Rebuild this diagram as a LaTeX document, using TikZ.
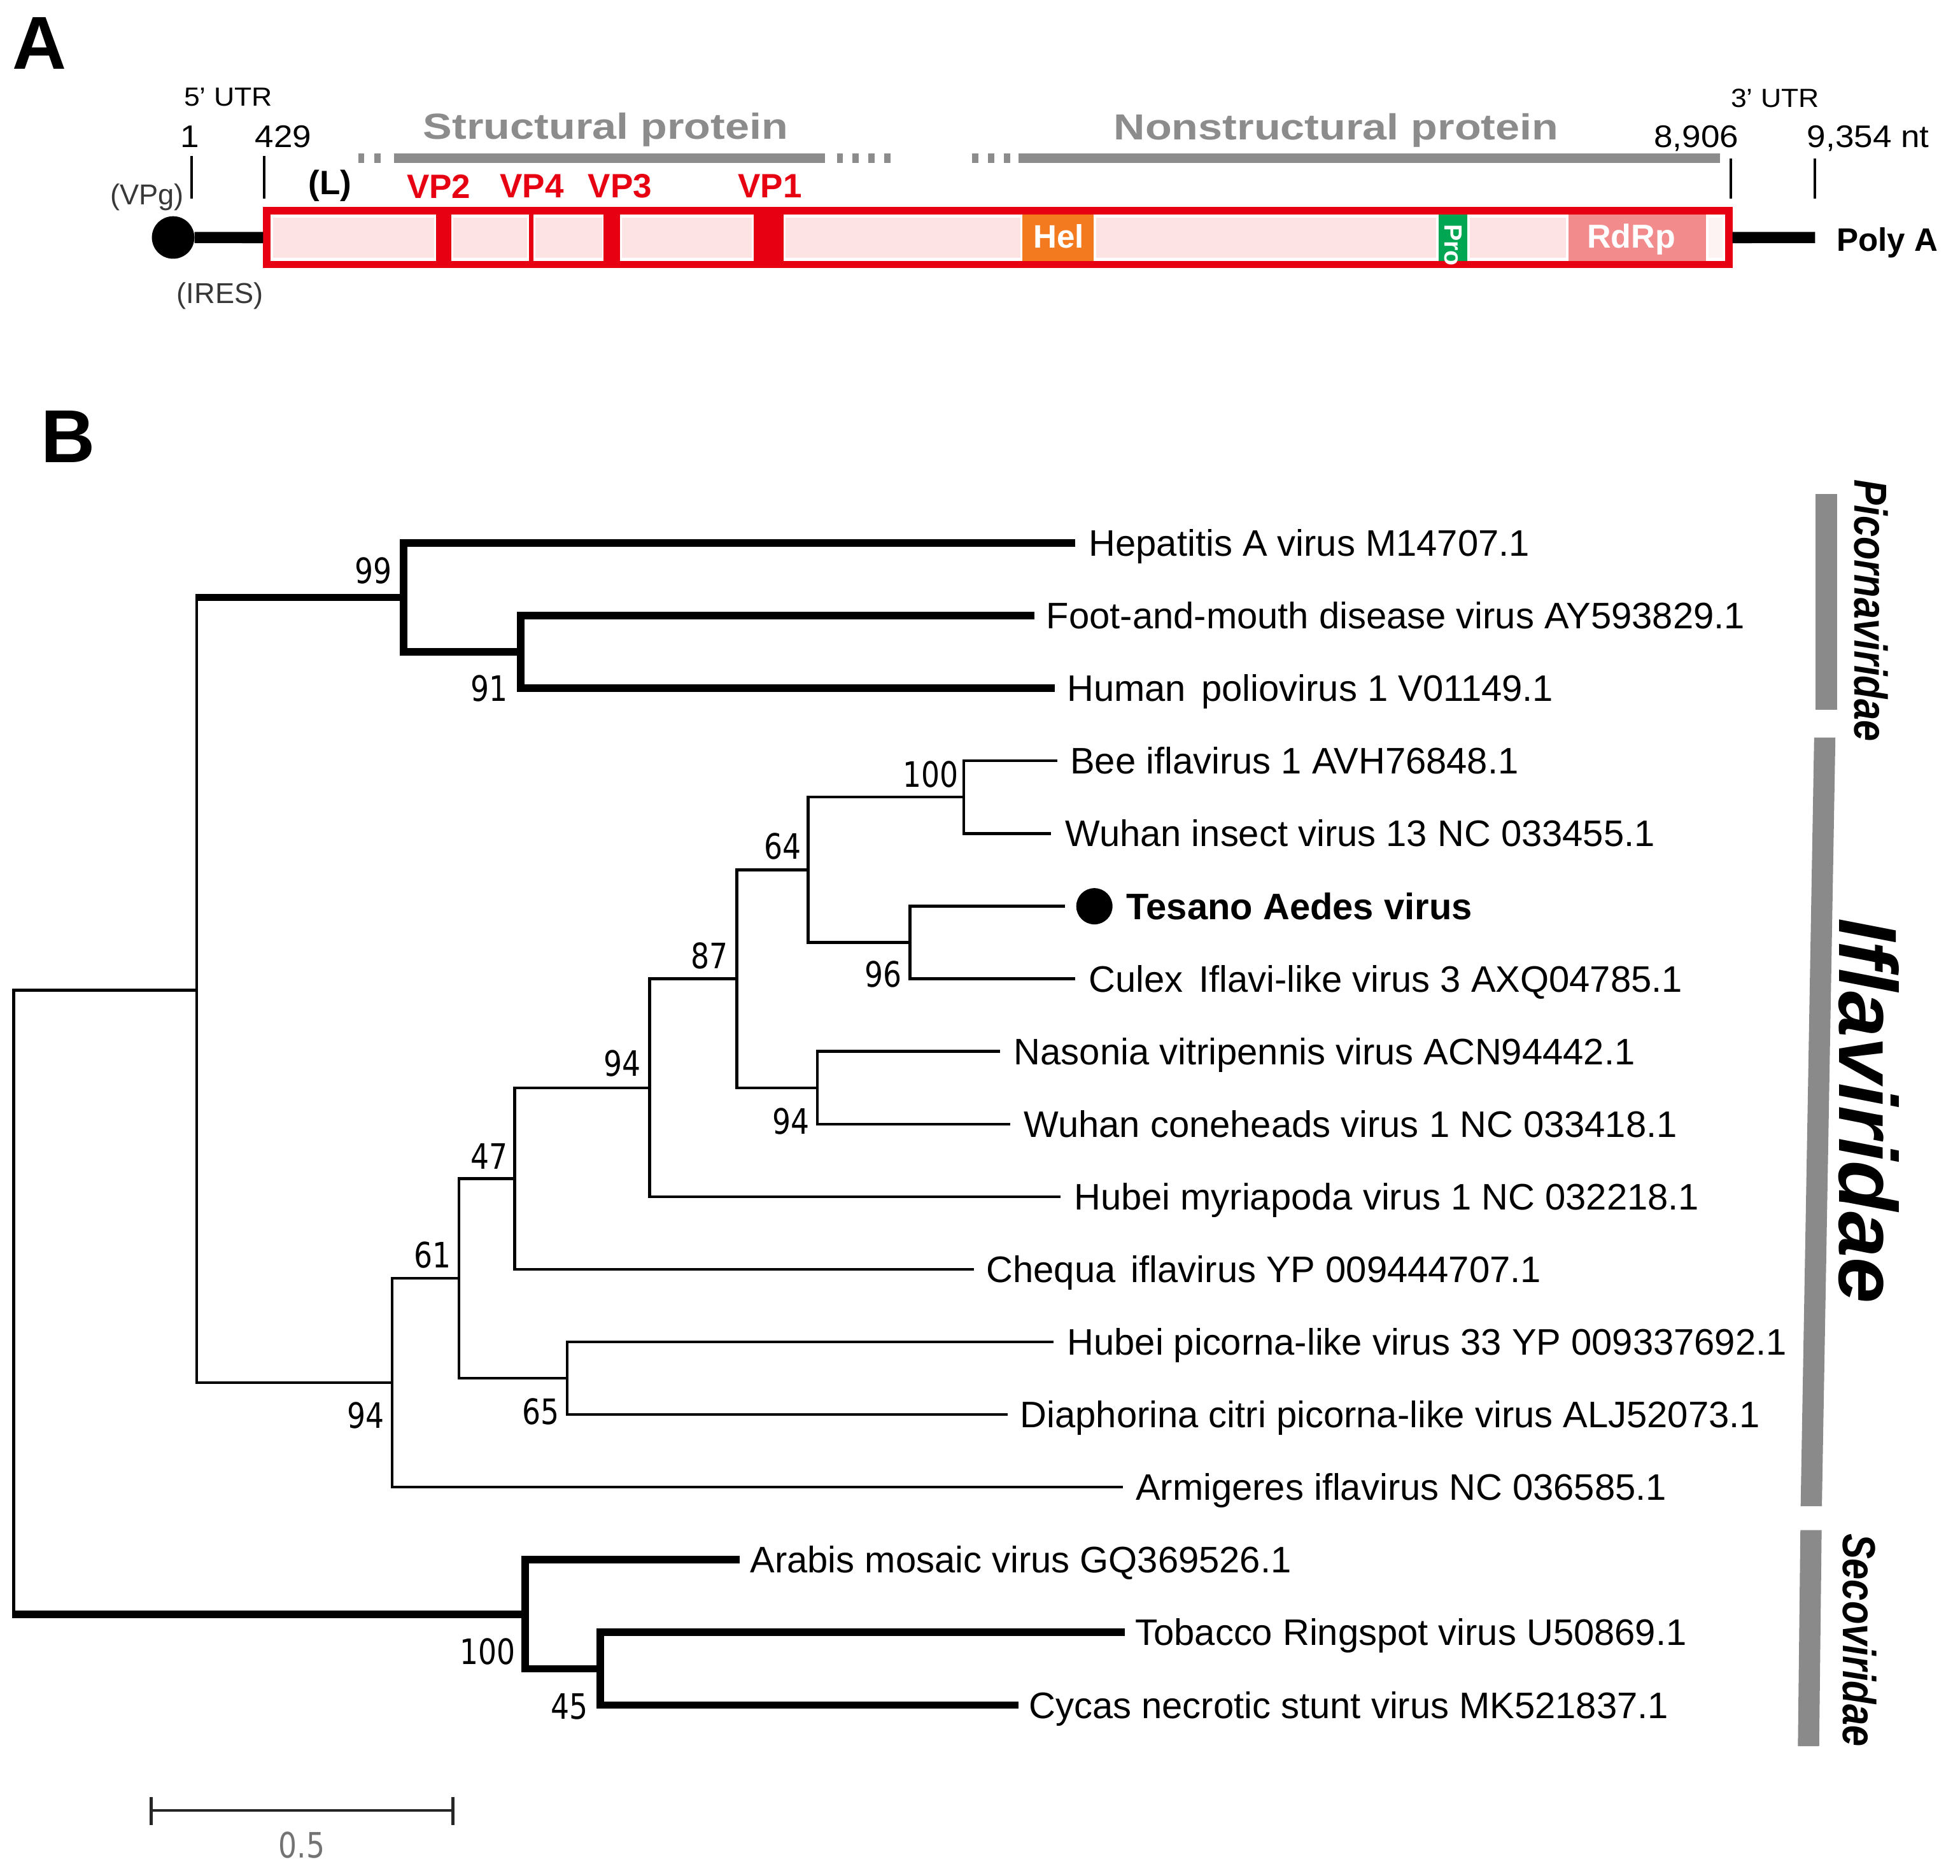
\documentclass[tikz,border=0pt]{standalone}
\usepackage{fontspec}
\setmainfont{Liberation Sans}
\newfontfamily\bootfam[FakeStretch=0.83]{DejaVu Sans}
\newfontfamily\widefam[FakeStretch=1.2]{Liberation Sans}
\newfontfamily\numfam[FakeStretch=1.08]{Liberation Sans}
\newfontfamily\famfam[FakeStretch=0.82]{Liberation Sans}
\definecolor{genred}{HTML}{E60012}
\definecolor{segpink}{HTML}{FDE3E3}
\definecolor{helorange}{HTML}{F47A1F}
\definecolor{progreen}{HTML}{00A651}
\definecolor{rdrpsalmon}{HTML}{F28B8B}
\definecolor{protgray}{HTML}{8C8C8C}
\definecolor{bargray}{HTML}{8A8A8A}
\newcommand\wsp{\hspace{0.42em}}
\begin{document}
\begin{tikzpicture}[x=1pt,y=-1pt,
  tip/.style={anchor=base west, inner sep=0pt, font=\fontsize{29.5}{32}\selectfont},
  boot/.style={inner sep=0pt, font=\bootfam\fontsize{28}{30}\selectfont},
  thinbr/.style={line width=2.2pt, line join=miter},
  thickbr/.style={line width=6pt, line join=miter},
  famlab/.style={rotate=-90, inner sep=0pt, font=\famfam\bfseries\itshape\fontsize{37}{40}\selectfont},
  vplab/.style={inner sep=0pt, text=genred, font=\bfseries\fontsize{27}{30}\selectfont},
  numlab/.style={anchor=base, inner sep=0pt, font=\numfam\fontsize{25}{28}\selectfont},
  utrlab/.style={anchor=base, inner sep=0pt, font=\numfam\fontsize{21}{24}\selectfont},
  protlab/.style={anchor=base, inner sep=0pt, text=protgray, font=\widefam\bfseries\fontsize{29}{32}\selectfont},
  panellab/.style={inner sep=0pt, font=\bfseries\fontsize{60}{60}\selectfont},
  paren/.style={inner sep=0pt, text=black!78, font=\fontsize{23}{26}\selectfont}
]
\fill[white] (0,0) rectangle (1568,1500.3);
\useasboundingbox (0,0) rectangle (1568,1500.3);

% ---------------- Panel A ----------------
\node[panellab] (labA) at (31.5,34.6) {A};

\node[circle, fill=black, minimum size=34pt, inner sep=0pt] (vpg) at (138.5,190) {};
\coordinate (polyEnd) at (1452,190);
\node[draw=genred, line width=6pt, fill=white, minimum width=1169.5pt, minimum height=43.1pt, inner sep=0pt] (box) at (798.25,190.05) {};
\draw[line width=9pt] (vpg) -- (box.west);
\draw[line width=9pt] (box.east) -- (polyEnd);

\foreach \a/\b in {218.5/347.5, 362.5/421.5, 428.5/481.5, 497.5/601.5, 628.5/816.5, 877/1149, 1176/1253}
  \fill[segpink] (\a,174) rectangle (\b,206);
\fill[segpink!45] (1367,174) rectangle (1378,206);
\foreach \a/\b in {349/361, 423/427, 483/496, 603/627}
  \fill[genred] (\a,171) rectangle (\b,209);
\fill[helorange] (818,171.5) rectangle (875,208.6);
\fill[progreen] (1151,171.5) rectangle (1174,208.6);
\fill[rdrpsalmon] (1255,171.5) rectangle (1365,208.6);
\node[anchor=base, inner sep=0pt, text=white, font=\bfseries\fontsize{26}{28}\selectfont] (hel) at (847,198.3) {Hel};
\node[anchor=base, inner sep=0pt, text=white, font=\bfseries\fontsize{26.5}{28}\selectfont] (rdrp) at (1305,198.3) {RdRp};
\node[rotate=-90, inner sep=0pt, text=white, font=\bfseries\fontsize{20}{22}\selectfont] (pro) at (1162.5,196) {Pro};

% ticks
\foreach \x/\ya in {153.5/125, 211.5/125, 1384.5/127, 1452/127}
  \draw[line width=2pt] (\x,\ya) -- (\x,159);

% protein bars
\draw[protgray, line width=7.5pt] (315,126.6) -- (660,126.6);
\draw[protgray, line width=7.5pt] (815,126.6) -- (1376,126.6);
\foreach \x in {289,302,672,684.5,697,710,780,793,805.6}
  \fill[protgray] (\x-2.5,122.8) rectangle (\x+2.5,130.4);

\node[protlab] (sp) at (484.6,111.5) {Structural protein};
\node[protlab] (nsp) at (1069,112) {Nonstructural protein};

\node[utrlab] (u5) at (182.5,85) {5’ UTR};
\node[utrlab] (u3) at (1420,86) {3’ UTR};
\node[numlab] (p1) at (152,118) {1};
\node[numlab] (p429) at (226.5,118) {429};
\node[numlab] (p8906) at (1357,118) {8,906};
\node[numlab] (p9354) at (1494.5,118) {9,354 nt};

\node[paren] (vpgl) at (117.5,158) {(VPg)};
\node[paren] (iresl) at (176,236.5) {(IRES)};
\node[inner sep=0pt, font=\bfseries\fontsize{27}{30}\selectfont] (lL) at (264,148.5) {(L)};
\node[vplab] (vp2) at (351,149) {VP2};
\node[vplab] (vp4) at (425.5,149) {VP4};
\node[vplab] (vp3) at (496,149) {VP3};
\node[vplab] (vp1) at (616,149) {VP1};
\node[anchor=base west, inner sep=0pt, font=\bfseries\fontsize{26}{28}\selectfont] (polyA) at (1469,201) {Poly A};

% ---------------- Panel B ----------------
\node[panellab] (labB) at (54.3,349.2) {B};

% internal nodes
\coordinate (root) at (11,1041.75);
\coordinate (nI) at (157.4,792.1);
\coordinate (n99) at (323,477.98);
\coordinate (n91) at (416.7,521.55);
\coordinate (nA94) at (313.7,1106.2);
\coordinate (n61) at (367,1022.7);
\coordinate (n47) at (411.8,942.8);
\coordinate (nB94) at (519.7,870.15);
\coordinate (n87) at (589.4,783);
\coordinate (n64) at (646.5,695.85);
\coordinate (n100) at (770.9,637.75);
\coordinate (n96) at (728,753.95);
\coordinate (nC94) at (654,870.15);
\coordinate (n65) at (453.9,1102.55);
\coordinate (nS) at (420,1291.4);
\coordinate (n45) at (480.4,1334.95);

% tips
\coordinate (tHep) at (860,434.4);
\coordinate (tFMD) at (827.5,492.5);
\coordinate (tPol) at (844,550.6);
\coordinate (tBee) at (846,608.7);
\coordinate (tWI) at (841,666.8);
\coordinate (tTes) at (852,724.9);
\coordinate (tCul) at (860,783);
\coordinate (tNas) at (800,841.1);
\coordinate (tCon) at (808,899.2);
\coordinate (tMyr) at (848.4,957.3);
\coordinate (tChe) at (779,1015.4);
\coordinate (tHPL) at (843,1073.5);
\coordinate (tDia) at (806,1131.6);
\coordinate (tArm) at (898.4,1189.7);
\coordinate (tAra) at (592,1247.8);
\coordinate (tTob) at (900,1305.9);
\coordinate (tCyc) at (815,1364);

% branches
\draw[thinbr] (root) |- (nI);
\draw[thinbr] (root) -- (root |- nS);
\draw[thickbr] ([xshift=-1.1pt]root |- nS) -- (nS);
\draw[thinbr] (nI) -- (nI |- n99);
\draw[thickbr] ([xshift=-1.1pt]nI |- n99) -- (n99);
\draw[thinbr] (nI) |- (nA94);
\draw[thickbr] (n99) |- (tHep);
\draw[thickbr] (n99) |- (n91);
\draw[thickbr] (n91) |- (tFMD);
\draw[thickbr] (n91) |- (tPol);
\draw[thinbr] (nA94) |- (n61);
\draw[thinbr] (nA94) |- (tArm);
\draw[thinbr] (n61) |- (n47);
\draw[thinbr] (n61) |- (n65);
\draw[thinbr] (n47) |- (nB94);
\draw[thinbr] (n47) |- (tChe);
\draw[thinbr] (nB94) |- (n87);
\draw[thinbr] (nB94) |- (tMyr);
\draw[thinbr] (n87) |- (n64);
\draw[thinbr] (n87) |- (nC94);
\draw[thinbr] (n64) |- (n100);
\draw[thinbr] (n64) |- (n96);
\draw[thinbr] (n100) |- (tBee);
\draw[thinbr] (n100) |- (tWI);
\draw[thinbr] (n96) |- (tTes);
\draw[thinbr] (n96) |- (tCul);
\draw[thinbr] (nC94) |- (tNas);
\draw[thinbr] (nC94) |- (tCon);
\draw[thinbr] (n65) |- (tHPL);
\draw[thinbr] (n65) |- (tDia);
\draw[thickbr] (nS) |- (tAra);
\draw[thickbr] (nS) |- (n45);
\draw[thickbr] (n45) |- (tTob);
\draw[thickbr] (n45) |- (tCyc);

% tip labels
\node[tip] (lHep) at ([shift={(11,10.5)}]tHep) {Hepatitis A virus M14707.1};
\node[tip] (lFMD) at ([shift={(9.5,10.5)}]tFMD) {Foot-and-mouth disease virus AY593829.1};
\node[tip] (lPol) at ([shift={(9.5,10.5)}]tPol) {Human\wsp poliovirus 1 V01149.1};
\node[tip] (lBee) at ([shift={(10,10.5)}]tBee) {Bee iflavirus 1 AVH76848.1};
\node[tip] (lWI) at ([shift={(11,10.5)}]tWI) {Wuhan insect virus 13 NC 033455.1};
\node[circle, fill=black, minimum size=29pt, inner sep=0pt] (dotTes) at (875.5,725) {};
\node[tip, font=\bfseries\fontsize{29.5}{32}\selectfont] (lTes) at (901,735.4) {Tesano Aedes virus};
\node[tip] (lCul) at ([shift={(11,10.5)}]tCul) {Culex\wsp Iflavi-like virus 3 AXQ04785.1};
\node[tip] (lNas) at ([shift={(11,10.5)}]tNas) {Nasonia vitripennis virus ACN94442.1};
\node[tip] (lCon) at ([shift={(11,10.5)}]tCon) {Wuhan coneheads virus 1 NC 033418.1};
\node[tip] (lMyr) at ([shift={(10.6,10.5)}]tMyr) {Hubei myriapoda virus 1 NC 032218.1};
\node[tip] (lChe) at ([shift={(10,10.5)}]tChe) {Chequa\wsp iflavirus YP 009444707.1};
\node[tip] (lHPL) at ([shift={(10.6,10.5)}]tHPL) {Hubei picorna-like virus 33 YP 009337692.1};
\node[tip] (lDia) at ([shift={(10,10.5)}]tDia) {Diaphorina citri picorna-like virus ALJ52073.1};
\node[tip] (lArm) at ([shift={(10,10.5)}]tArm) {Armigeres iflavirus NC 036585.1};
\node[tip] (lAra) at ([shift={(8,10.5)}]tAra) {Arabis mosaic virus GQ369526.1};
\node[tip] (lTob) at ([shift={(8,10.5)}]tTob) {Tobacco Ringspot virus U50869.1};
\node[tip] (lCyc) at ([shift={(8,10.5)}]tCyc) {Cycas necrotic stunt virus MK521837.1};

% bootstrap values
\node[boot] (b99) at (298.5,456.5) {99};
\node[boot] (b91) at (391.4,550.8) {91};
\node[boot] (bI100) at (744.5,619.4) {100};
\node[boot] (b64) at (626,676.8) {64};
\node[boot] (b87) at (567.6,764.4) {87};
\node[boot] (b96) at (706.5,779.4) {96};
\node[boot] (bB94) at (498,850.6) {94};
\node[boot] (bC94) at (633,897) {94};
\node[boot] (b47) at (391.2,924.8) {47};
\node[boot] (b61) at (345.8,1004) {61};
\node[boot] (bA94) at (292.6,1132.4) {94};
\node[boot] (b65) at (432.8,1129.3) {65};
\node[boot] (bS100) at (390.2,1321) {100};
\node[boot] (b45) at (455.5,1365) {45};

% family bars
\fill[bargray] (1452.5,395) rectangle (1469.5,568);
\fill[bargray] (1451.3,590) -- (1468.3,590) -- (1457.5,1205) -- (1440.5,1205) -- cycle;
\fill[bargray] (1440.3,1224) -- (1457.3,1224) -- (1455.3,1397) -- (1438.3,1397) -- cycle;
\node[famlab] (fPic) at (1497,488.5) {Picornaviridae};
\node[famlab, font=\bfseries\itshape\fontsize{66}{70}\selectfont] (fIfl) at (1495,888.5) {Iflaviridae};
\node[famlab] (fSec) at (1487.5,1312) {Secoviridae};

% scale bar
\coordinate (sbL) at (121,1448.3);
\coordinate (sbR) at (362.3,1448.3);
\draw[line width=2.2pt, black!85] (sbL) -- (sbR);
\draw[line width=2.2pt, black!85] (121,1437.5) -- (121,1460);
\draw[line width=2.2pt, black!85] (362.3,1437.5) -- (362.3,1460);
\node[boot, text=black!55] (sbText) at (241.5,1476) {0.5};
\end{tikzpicture}
\end{document}
